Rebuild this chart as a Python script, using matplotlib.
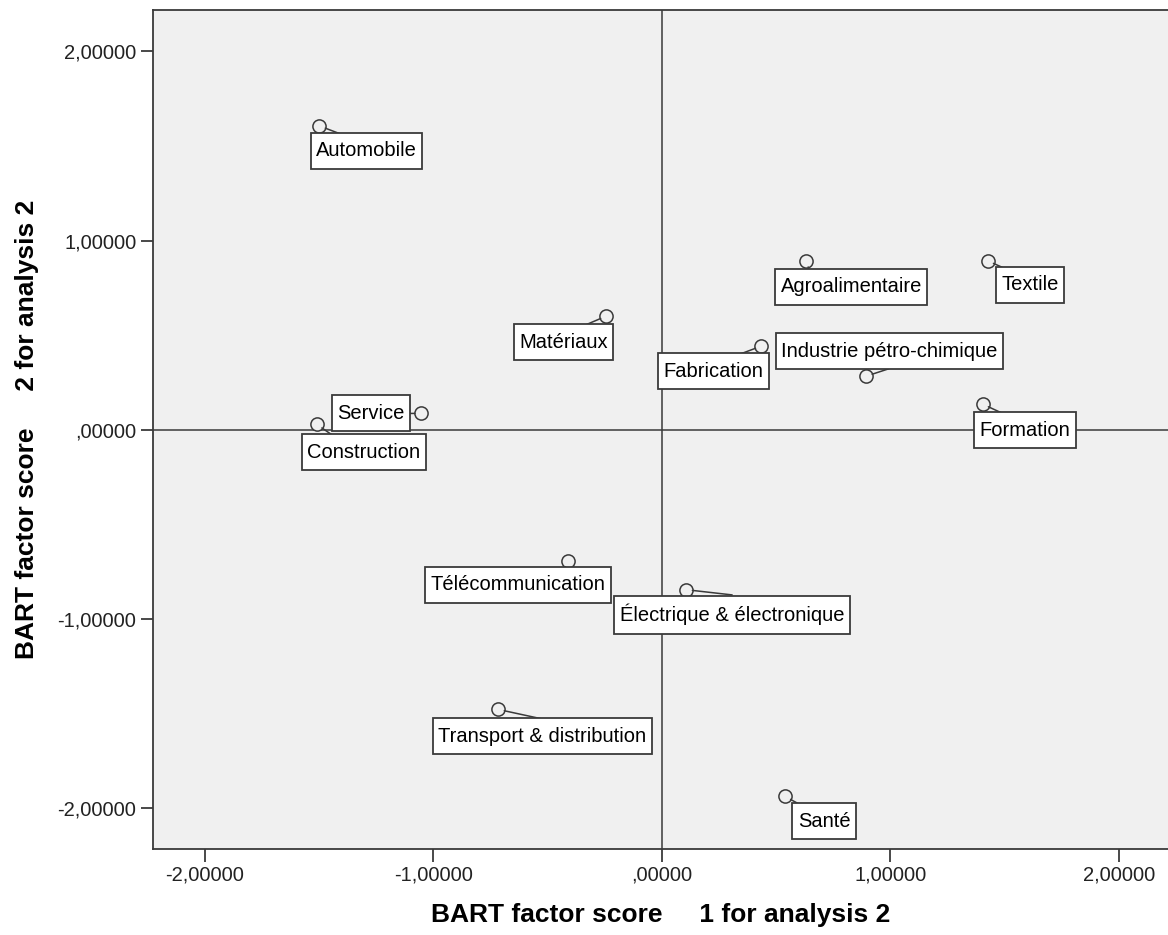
import matplotlib
matplotlib.use("Agg")
import matplotlib.pyplot as plt

plt.rcParams['font.family'] = ['Liberation Sans', 'DejaVu Sans']

categories = ["Automobile", "Agroalimentaire", "Textile", "Matériaux", "Fabrication",
              "Industrie pétro-chimique", "Service", "Construction", "Formation",
              "Télécommunication", "Électrique & électronique",
              "Transport & distribution", "Santé"]
score1 = [-1.499, 0.632, 1.426, -0.243, 0.435, 0.894, -1.054, -1.511, 1.404,
          -0.412, 0.106, -0.717, 0.539]
score2 = [1.606, 0.892, 0.893, 0.601, 0.442, 0.283, 0.086, 0.028, 0.135,
          -0.694, -0.846, -1.479, -1.939]
xticks = [-2, -1, 0, 1, 2]
yticks = [-2, -1, 0, 1, 2]
tick_labels = ["-2,00000", "-1,00000", ",00000", "1,00000", "2,00000"]
xlabel = "BART factor score     1 for analysis 2"
ylabel = "BART factor score     2 for analysis 2"

# label placement (offset in pixels from point) and leader anchor on the box edge
label_offsets = [(47, -25), (45, -26), (42, -24), (-43, -26), (-48, -25), (23, 25),
                 (-50, 0), (47, -28), (42, -26), (-50, -24), (46, -25), (44, -27), (39, -25)]
leader_rel = [(0.23, 1.42), (0.2, 1.42), (0.02, 1.42), (0.76, 1.42), (0.78, 1.42), (0.5, -0.42),
              (1.07, 0.5), (0.22, 1.42), (0.24, 1.42), (0.77, 1.42), (0.5, 1.42), (0.5, 1.42),
              (0.02, 1.42)]

fig = plt.figure(figsize=(11.68, 9.35), dpi=100)
ax = fig.add_axes([153 / 1168, 86 / 935, 1 - 153 / 1168, (849 - 10) / 935])
ax.set_facecolor('#F0F0F0')
ax.set_xlim(-2.2276, 2.215)
ax.set_ylim(-2.217, 2.219)

edge = '#3a3a3a'
ax.axhline(0, color=edge, lw=1.1, zorder=1)
ax.axvline(0, color=edge, lw=1.1, zorder=1)

ax.plot(score1, score2, linestyle='none', marker='o', markersize=9.5,
        markerfacecolor='#F0F0F0', markeredgecolor=edge, markeredgewidth=1.1, zorder=3)

for name, x, y, off, rel in zip(categories, score1, score2, label_offsets, leader_rel):
    ax.annotate(name, xy=(x, y), xytext=off, textcoords='offset pixels',
                ha='center', va='center', fontsize=14.5, color='black', zorder=4,
                bbox=dict(boxstyle='square,pad=0.27', fc='white', ec=edge, lw=1.3,
                          mutation_aspect=1.55),
                arrowprops=dict(arrowstyle='-', color=edge, lw=1.1, relpos=rel,
                                patchA=None, shrinkA=0, shrinkB=4.5))

ax.set_xticks(xticks)
ax.set_xticklabels(tick_labels)
ax.set_yticks(yticks)
ax.set_yticklabels(tick_labels)
ax.tick_params(direction='out', length=9, width=1.3, color=edge, labelsize=14.5,
               pad=3, labelcolor='#222222')
for s in ['left', 'bottom', 'top']:
    ax.spines[s].set_color(edge)
    ax.spines[s].set_linewidth(1.3)
ax.spines['right'].set_visible(False)

ax.set_xlabel(xlabel, fontsize=19, fontweight='bold', labelpad=13)
ax.set_ylabel(ylabel, fontsize=19, fontweight='bold', labelpad=13)

fig.savefig('out.png', dpi=100, facecolor='white')
